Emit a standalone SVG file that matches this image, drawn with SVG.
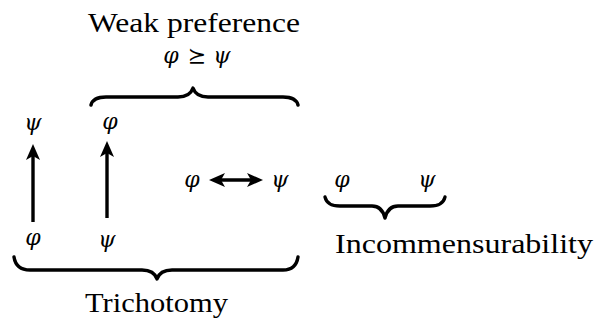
<svg xmlns="http://www.w3.org/2000/svg" width="596" height="320" viewBox="0 0 596 320">
<style>
.lbl{font-family:"Liberation Serif","DejaVu Serif",serif;fill:#000}
.m{font-family:"DejaVu Serif",serif;font-style:italic;fill:#000;text-anchor:middle}
.op{font-family:"DejaVu Sans",sans-serif;fill:#000;text-anchor:middle}
.br{fill:none;stroke:#000;stroke-width:3.4;stroke-linecap:round;stroke-linejoin:round}
.ar{fill:none;stroke:#000;stroke-width:3.4}
.hd{fill:#000;stroke:none}
</style>
<g id="weak-label">
<text class="lbl" x="88" y="32" font-size="28" textLength="212" lengthAdjust="spacingAndGlyphs">Weak preference</text>
<text class="m" x="171" y="63" font-size="22">φ</text>
<text class="op" x="197" y="63" font-size="22">⪰</text>
<text class="m" x="222" y="63" font-size="22">ψ</text>
</g>
<g id="weak-brace"><path class="br" d="M91,105 Q93,97 106,97 L178,97 Q190,97 193,88 Q196,97 208,97 L283,97 Q296,97 298,105"/></g>
<g id="n1"><text class="m" x="33" y="130" font-size="22">ψ</text><text class="m" x="33" y="245" font-size="22">φ</text></g>
<g id="n2"><text class="m" x="110" y="129" font-size="22">φ</text><text class="m" x="107" y="247" font-size="22">ψ</text></g>
<g id="n3"><text class="m" x="192" y="187" font-size="22">φ</text><text class="m" x="280" y="187" font-size="22">ψ</text></g>
<g id="n4"><text class="m" x="342" y="187" font-size="22">φ</text><text class="m" x="427" y="187" font-size="22">ψ</text></g>
<g id="connectors">
<line class="ar" x1="33" y1="222" x2="33" y2="152"/>
<path class="hd" d="M33,144 L40,160 L33,156 L26,160 Z"/>
<line class="ar" x1="107" y1="218" x2="107" y2="149"/>
<path class="hd" d="M107,141 L114,157 L107,153 L100,157 Z"/>
<line class="ar" x1="216" y1="180" x2="256" y2="180"/>
<path class="hd" d="M209,180 L225,173 L221,180 L225,187 Z"/>
<path class="hd" d="M263,180 L247,173 L251,180 L247,187 Z"/>
</g>
<g id="incomm-brace"><path class="br" d="M325,197 Q327,206 340,206 L372,206 Q382,206 385,218 Q388,206 398,206 L430,206 Q443,206 445,197"/></g>
<g id="incomm-label"><text class="lbl" x="335" y="253" font-size="28" textLength="258" lengthAdjust="spacingAndGlyphs">Incommensurability</text></g>
<g id="tri-brace"><path class="br" d="M14,257 Q16,270 30,270 L142,270 Q154,270 157,279 Q160,270 172,270 L283,270 Q296,270 298,257"/></g>
<g id="tri-label"><text class="lbl" x="85" y="312" font-size="28" textLength="143" lengthAdjust="spacingAndGlyphs">Trichotomy</text></g>
</svg>
